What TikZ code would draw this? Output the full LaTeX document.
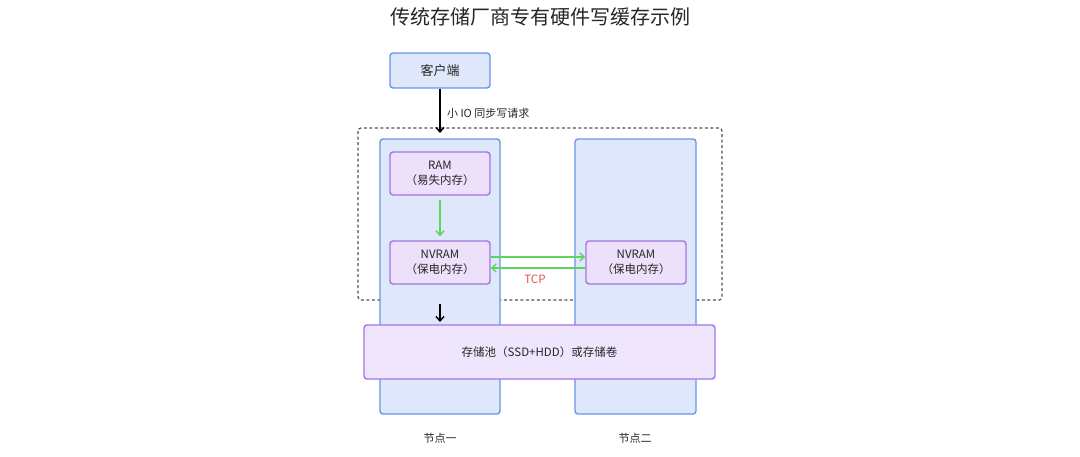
\documentclass[tikz,border=0pt]{standalone}
\usepackage{fontspec}
\setmainfont{Noto Sans CJK SC}
\usetikzlibrary{arrows.meta}
\definecolor{bfill}{HTML}{DFE7FB}
\definecolor{bdraw}{HTML}{6A94E6}
\definecolor{pfill}{HTML}{ECE0FB}
\definecolor{pdraw}{HTML}{A474E2}
\definecolor{gline}{HTML}{5FD35F}
\definecolor{tcpred}{HTML}{E8504F}
\definecolor{dgray}{HTML}{555555}
\begin{document}
\begin{tikzpicture}[x=1pt,y=-1pt,
  bbox/.style={draw=bdraw,fill=bfill,line width=1.4pt,rounded corners=3pt},
  pbox/.style={draw=pdraw,fill=pfill,line width=1.4pt,rounded corners=3pt,align=center,font=\fontsize{11.5}{15}\selectfont,text=black!85},
  blk/.style={-{Straight Barb[length=4.5pt,width=8pt]},line width=1.4pt,black},
  grn/.style={-{Straight Barb[length=4.5pt,width=8pt]},line width=1.4pt,gline},
  lbl/.style={font=\fontsize{11}{13}\selectfont,text=black!85}]
\useasboundingbox (0,0) rectangle (1080,456);
\node[font=\fontsize{20}{23}\selectfont,text=black!85] (title) at (540,17) {传统存储厂商专有硬件写缓存示例};
\node[bbox,minimum width=100pt,minimum height=35pt,font=\fontsize{13}{15}\selectfont,text=black!85] (client) at (440,70.5) {客户端};
\draw[dgray,line width=1.2pt,dash pattern=on 3pt off 2.5pt,rounded corners=3pt] (358,128) rectangle (722,300);
\node[bbox,minimum width=120pt,minimum height=275pt] (n1) at (440,276.5) {};
\node[bbox,minimum width=121pt,minimum height=275pt] (n2) at (635.5,276.5) {};
\node[pbox,minimum width=100pt,minimum height=43pt] (ram) at (440,173.5) {RAM\\（易失内存）};
\node[pbox,minimum width=100pt,minimum height=43pt] (nv1) at (440,262.5) {NVRAM\\（保电内存）};
\node[pbox,minimum width=100pt,minimum height=43pt] (nv2) at (636,262.5) {NVRAM\\（保电内存）};
\node[pbox,fill=pfill!85!white,minimum width=351pt,minimum height=54pt] (pool) at (539.5,352) {存储池（SSD+HDD）或存储卷};
\draw[blk] (client.south) -- (440,133) node[pos=0.55,right=3pt,lbl] {小 IO 同步写请求};
\draw[grn] ([yshift=-4pt]ram.south) -- ([yshift=4pt]nv1.north);
\draw[grn] ([yshift=5.5pt]nv1.east) -- ([yshift=5.5pt]nv2.west);
\draw[grn] ([yshift=-5.5pt]nv2.west) -- ([yshift=-5.5pt]nv1.east);
\node[font=\fontsize{11.5}{13}\selectfont,text=tcpred] (tcp) at (535,279) {TCP};
\coordinate (a1) at (440,304);
\draw[blk] (a1) -- (440,322);
\node[lbl] (l1) at (440,438) {节点一};
\node[lbl] (l2) at (635,438) {节点二};
\end{tikzpicture}
\end{document}
